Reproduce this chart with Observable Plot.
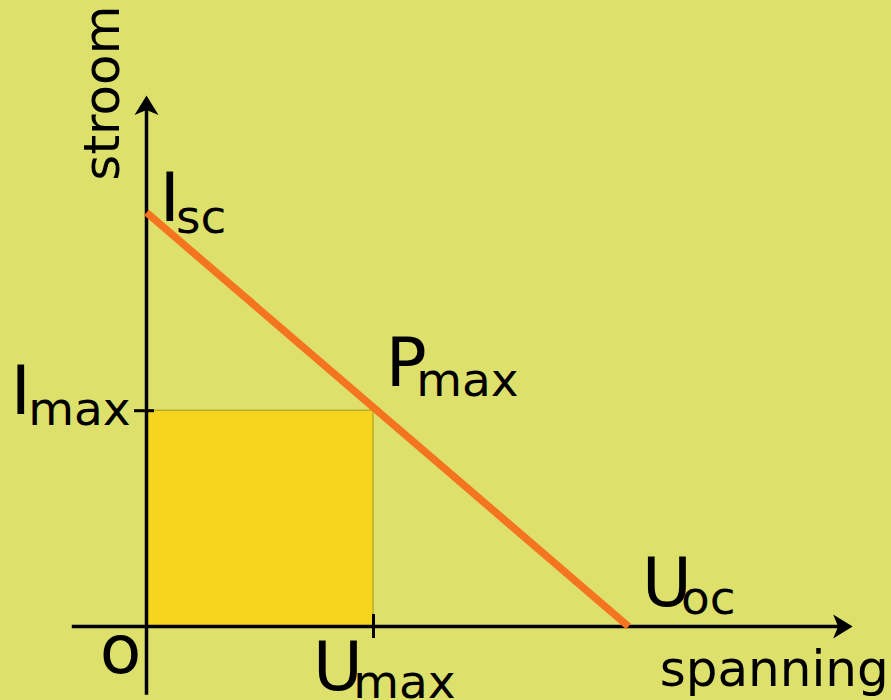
<!DOCTYPE html>
<html>
<head>
<meta charset="utf-8">
<script src="https://cdn.jsdelivr.net/npm/d3@7"></script>
<script src="https://cdn.jsdelivr.net/npm/@observablehq/plot@0.6"></script>
<style>
  html, body { margin: 0; padding: 0; background: #dde06b; }
  #chart { width: 891px; height: 700px; }
</style>
</head>
<body>
<div id="chart"></div>
<script>
// ---- data (arbitrary units) ----
const Uoc = 10;      // open-circuit voltage
const Isc = 8;       // short-circuit current
const Umax = 4.71;   // voltage at maximum power
const Imax = 4.17;   // current at maximum power

// axis extents (data units)
const xAxisExtent = [-1.54, 14.65];
const yAxisExtent = [-1.33, 10.26];

// IV line (ideal, straight)
const ivPoints = [
  {u: 0, i: Isc},
  {u: Uoc, i: 0}
];
const powerRect = [{u1: 0, u2: Umax, i1: 0, i2: Imax}];

// labels: main letter + subscript, attached to a data anchor
const labelMain = ["I", "I", "P", "U", "U", "o"];
const labelSub  = ["sc", "max", "max", "max", "oc", ""];
const labelU    = [0, 0, Umax, Umax, Uoc, 0];
const labelI    = [Isc, Imax, Imax, 0, 0, 0];
const axisTitles = ["spanning", "stroom"];

// pixel offsets of each label relative to its anchor, and of the subscript
const mainOff = [[13.3, 8], [-135.7, 3], [12.3, -25], [-60.4, 63], [13.6, -21], [-46.7, 46]];
const subShift = [[-3.9, 12], [-2.7, 11], [-10.6, 10], [-9.7, 8], [-11, 8], [0, 0]];

const FONT = "DejaVu Sans";

// arrowhead symbol pointing up, tip at the origin
const arrowHead = {
  draw(ctx) {
    ctx.moveTo(0, 0);
    ctx.lineTo(12, 19.5);
    ctx.lineTo(0, 14.5);
    ctx.lineTo(-12, 19.5);
    ctx.closePath();
  }
};

const labelMarks = labelMain.map((m, k) => {
  const d = [{u: labelU[k], i: labelI[k], t: m, id: "lbl-" + k}];
  return Plot.text(d, {
    x: "u", y: "i", text: "t", textAnchor: "start", lineAnchor: "bottom",
    dx: mainOff[k][0], dy: mainOff[k][1], fontSize: 68, fontFamily: FONT, fill: "#000",
    ariaLabel: "id"
  });
});

const chart = Plot.plot({
  width: 891,
  height: 700,
  margin: 0,
  style: {background: "#dde06b", overflow: "visible"},
  x: {domain: [0, Uoc], range: [146, 628], axis: null},
  y: {domain: [0, Isc], range: [626, 212], axis: null},
  marks: [
    // maximum power rectangle
    Plot.rect(powerRect, {x1: "u1", x2: "u2", y1: "i1", y2: "i2",
      fill: "#f7d51e", stroke: "#a39a22", strokeWidth: 1}),
    // axes
    Plot.ruleY([0], {x1: xAxisExtent[0], x2: xAxisExtent[1], insetRight: 10,
      stroke: "#000", strokeWidth: 3.5}),
    Plot.ruleX([0], {y1: yAxisExtent[1], y2: yAxisExtent[0], insetTop: 10,
      stroke: "#000", strokeWidth: 3.5}),
    Plot.dot([{u: xAxisExtent[1], i: 0}], {x: "u", y: "i", symbol: arrowHead,
      rotate: 90, fill: "#000", stroke: "none"}),
    Plot.dot([{u: 0, i: yAxisExtent[1]}], {x: "u", y: "i", symbol: arrowHead,
      fill: "#000", stroke: "none"}),
    // ticks for Imax and Umax
    Plot.ruleY([Imax], {x1: 0, x2: 0, insetLeft: -12, insetRight: -8,
      stroke: "#000", strokeWidth: 3}),
    Plot.ruleX([Umax], {y1: 0, y2: 0, insetTop: -12, insetBottom: -12,
      stroke: "#000", strokeWidth: 3}),
    // IV line
    Plot.line(ivPoints, {x: "u", y: "i", stroke: "#f47420", strokeWidth: 7.5,
      strokeLinecap: "butt"}),
    // labels
    ...labelMarks,
    // axis titles
    Plot.text([axisTitles[0]], {x: () => xAxisExtent[1], y: () => 0, text: (d) => d,
      textAnchor: "start", lineAnchor: "bottom", dx: -193, dy: 59,
      fontSize: 50, fontFamily: FONT, fill: "#000"}),
    Plot.text([axisTitles[1]], {x: () => 0, y: () => yAxisExtent[1], text: (d) => d,
      textAnchor: "middle", lineAnchor: "bottom", rotate: -90, dx: -28, dy: -2.4,
      fontSize: 50, fontFamily: FONT, fill: "#000"})
  ]
});

// attach subscripts as tspans inside each label's text element
const root = d3.select(chart);
const textGroups = root.selectAll('g[aria-label="text"]').nodes();
labelSub.forEach((s, k) => {
  if (!s) return;
  let node = root.select(`text[aria-label="lbl-${k}"]`).node();
  if (!node && textGroups[k]) node = textGroups[k].querySelector("text");
  if (!node) return;
  d3.select(node)
    .append("tspan")
    .attr("font-size", 47)
    .attr("dx", subShift[k][0])
    .attr("dy", subShift[k][1])
    .text(s);
});

document.getElementById("chart").appendChild(chart);
</script>
</body>
</html>
